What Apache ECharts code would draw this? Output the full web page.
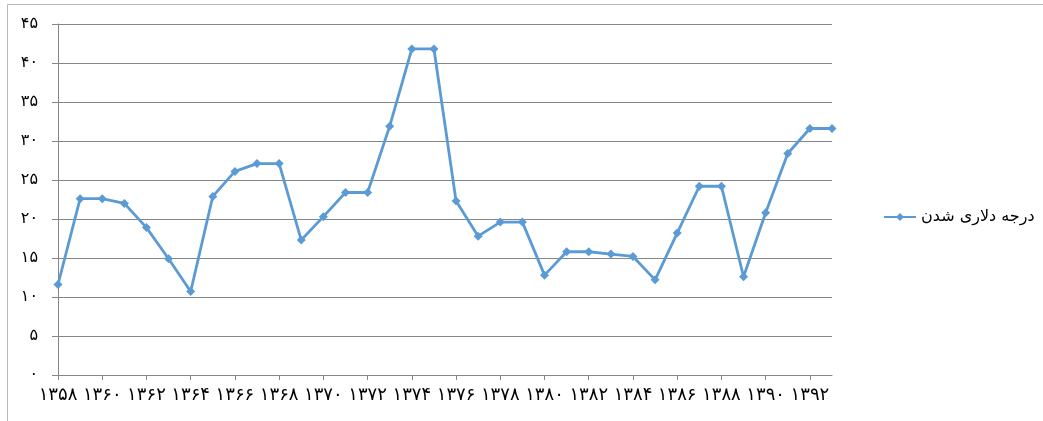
<!DOCTYPE html>
<html>
<head>
<meta charset="utf-8">
<script src="https://cdn.jsdelivr.net/npm/echarts@6/dist/echarts.min.js"></script>
<style>html,body{margin:0;padding:0;background:#fff;}#c{width:1043px;height:421px;}</style>
</head>
<body>
<div id="c"></div>
<script>
var categories = ['۱۳۵۸','۱۳۵۹','۱۳۶۰','۱۳۶۱','۱۳۶۲','۱۳۶۳','۱۳۶۴','۱۳۶۵','۱۳۶۶','۱۳۶۷','۱۳۶۸','۱۳۶۹','۱۳۷۰','۱۳۷۱','۱۳۷۲','۱۳۷۳','۱۳۷۴','۱۳۷۵','۱۳۷۶','۱۳۷۷','۱۳۷۸','۱۳۷۹','۱۳۸۰','۱۳۸۱','۱۳۸۲','۱۳۸۳','۱۳۸۴','۱۳۸۵','۱۳۸۶','۱۳۸۷','۱۳۸۸','۱۳۸۹','۱۳۹۰','۱۳۹۱','۱۳۹۲','۱۳۹۳'];
var values = [11.6,22.6,22.6,22.0,18.9,14.9,10.7,22.9,26.1,27.1,27.1,17.3,20.3,23.4,23.4,31.9,41.8,41.8,22.3,17.8,19.6,19.6,12.8,15.8,15.8,15.5,15.2,12.2,18.2,24.2,24.2,12.6,20.8,28.4,31.6,31.6];
var seriesName = 'درجه دلاری شدن';
var persian = ['۰','۱','۲','۳','۴','۵','۶','۷','۸','۹'];
function toFa(v){return String(v).replace(/[0-9]/g,function(d){return persian[+d];});}

var chart = echarts.init(document.getElementById('c'));
chart.setOption({
  animation:false,
  backgroundColor:'#fff',
  textStyle:{fontFamily:'DejaVu Sans'},
  graphic:[{type:'rect',shape:{x:7.5,y:4.5,width:1040,height:430},style:{fill:'none',stroke:'#b8b8b8',lineWidth:1},silent:true}],
  grid:{left:58,right:211,top:24,bottom:46},
  legend:{
    data:[seriesName],
    left:878, top:204, orient:'vertical',
    itemWidth:32, itemHeight:10, itemGap:6,
    textStyle:{fontFamily:'DejaVu Sans',fontSize:16,color:'#000'}
  },
  xAxis:{
    type:'category', data:categories, boundaryGap:false,
    axisLine:{lineStyle:{color:'#868686',width:1}},
    axisTick:{show:true,interval:1,length:5,lineStyle:{color:'#868686'}},
    axisLabel:{interval:1,color:'#000',fontSize:18,margin:11,fontFamily:'DejaVu Sans'},
    splitLine:{show:false}
  },
  yAxis:{
    type:'value', min:0, max:45, interval:5,
    axisLine:{show:true,lineStyle:{color:'#868686',width:1}},
    axisTick:{show:true,length:6,lineStyle:{color:'#868686'}},
    axisLabel:{color:'#000',fontSize:16,margin:20,fontFamily:'DejaVu Sans',formatter:function(v){return toFa(v);}},
    splitLine:{show:true,lineStyle:{color:'#868686',width:1}}
  },
  series:[{
    name:seriesName, type:'line', data:values,
    symbol:'diamond', symbolSize:9, showSymbol:true,
    lineStyle:{color:'#5B9BD5',width:2.8},
    itemStyle:{color:'#5B9BD5'}
  }]
});
</script>
</body>
</html>
